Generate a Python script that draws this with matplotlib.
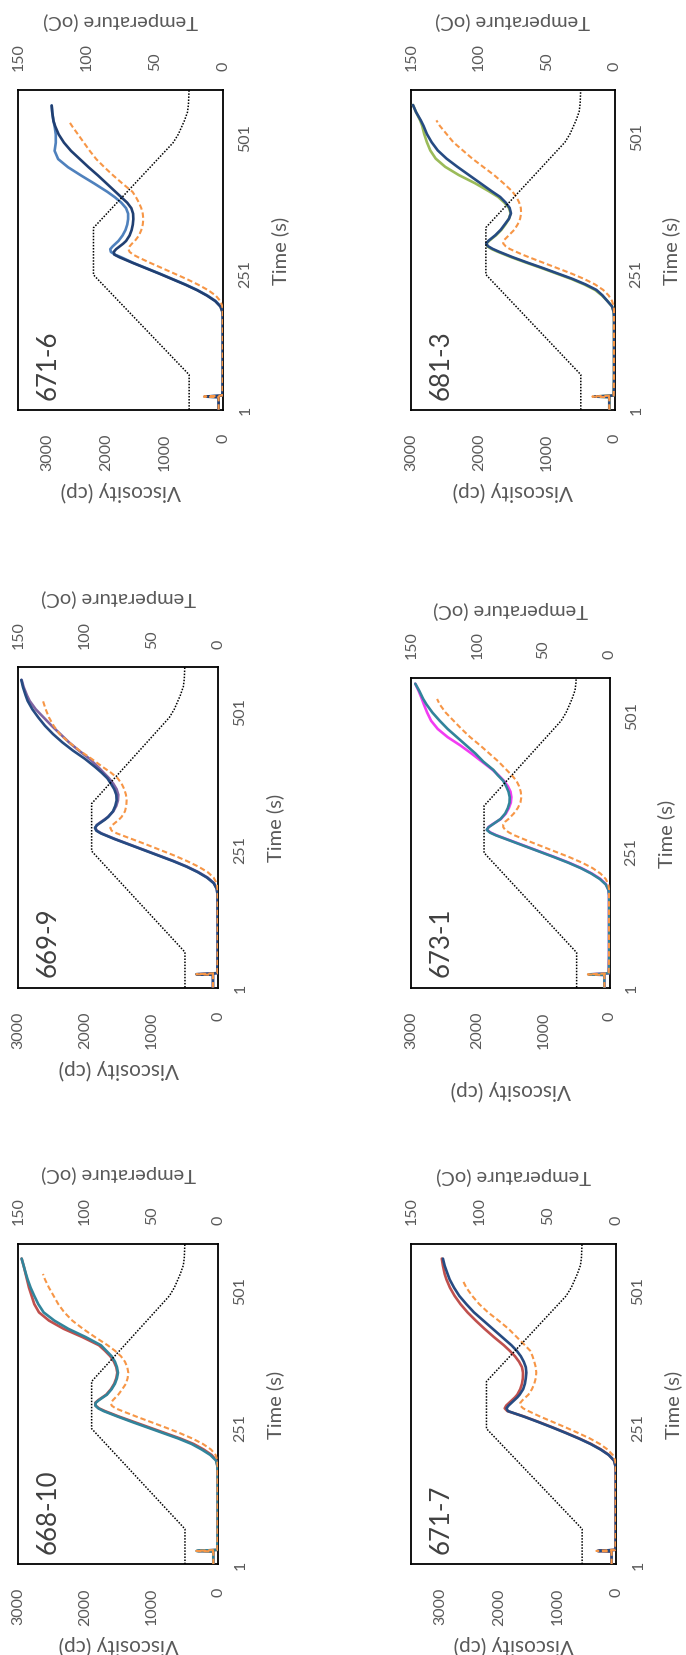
import numpy as np
import matplotlib
matplotlib.use("Agg")
import matplotlib.pyplot as plt

plt.rcParams["font.family"] = ["Lato", "DejaVu Sans"]

# ---------------------------------------------------------------- data
# sampling points (s) shared by every viscosity trace
TIME = [1, 24, 25, 27, 60, 120, 170,
        180, 190, 200, 210, 220, 230, 240, 250, 260, 270, 280,
        285, 290, 295, 300, 305, 310,
        320, 330, 340, 350, 360, 370, 380, 390, 400,
        415, 430, 445, 460, 475, 490, 505, 520, 530, 545, 558]

# temperature programme (oC)
TEMP_TIME = [1, 65, 248, 334, 490, 505, 516, 530, 546, 560, 590]
TEMP_C = [25, 25, 95, 95, 36.7, 33, 31, 28.5, 26.2, 25.5, 25]

nan = np.nan

# 668-10
V_668_10_TEAL = [75, 75, 325, 15, 10, 10, 10,
                 15, 35, 120, 250, 400, 600, 830, 1060, 1290, 1510, 1720,
                 1800, 1845, 1840, 1790, 1730, 1670,
                 1600, 1550, 1520, 1505, 1520, 1550, 1600, 1680, 1760,
                 1990, 2250, 2460, 2620, 2700, 2760, 2815, 2860, 2885, 2920, 2950]
V_668_10_RED = [75, 75, 300, 15, 10, 10, 10,
                12, 30, 100, 220, 370, 570, 800, 1030, 1260, 1490, 1700,
                1790, 1840, 1845, 1800, 1740, 1680,
                1610, 1560, 1530, 1515, 1530, 1565, 1620, 1700, 1790,
                2040, 2320, 2540, 2690, 2760, 2800, 2840, 2870, 2890, 2920, 2950]
V_668_10_ORANGE = [75, 75, 330, 15, 10, 10, 10,
                   10, 15, 40, 110, 230, 390, 580, 790, 1010, 1230, 1440,
                   1540, 1600, 1610, 1580, 1540, 1500,
                   1440, 1385, 1360, 1350, 1365, 1400, 1460, 1550, 1660,
                   1850, 2030, 2190, 2310, 2400, 2470, 2540, 2600, 2630, nan, nan]

# 669-9
V_669_9_NAVY = [80, 80, 330, 15, 10, 10, 12,
                25, 70, 170, 310, 480, 680, 900, 1120, 1340, 1560, 1760,
                1830, 1850, 1820, 1760, 1700, 1650,
                1580, 1545, 1525, 1530, 1560, 1610, 1665, 1750, 1845,
                2000, 2180, 2340, 2480, 2600, 2700, 2790, 2860, 2890, 2930, 2955]
V_669_9_PURPLE = [80, 80, 310, 15, 10, 10, 12,
                  22, 65, 160, 300, 470, 670, 890, 1110, 1330, 1550, 1750,
                  1820, 1845, 1825, 1770, 1710, 1655,
                  1575, 1530, 1505, 1500, 1525, 1575, 1640, 1720, 1800,
                  1930, 2090, 2240, 2370, 2500, 2620, 2740, 2830, 2870, 2920, 2950]
V_669_9_ORANGE = [80, 80, 330, 15, 10, 10, 10,
                  12, 25, 70, 160, 300, 470, 660, 870, 1080, 1300, 1520,
                  1600, 1620, 1590, 1540, 1490, 1450,
                  1400, 1380, 1375, 1385, 1410, 1450, 1510, 1610, 1730,
                  1900, 2080, 2240, 2380, 2470, 2540, 2590, 2630, nan, nan, nan]

# 671-6
V_671_6_NAVY = [80, 80, 320, 15, 10, 10, 10,
                15, 50, 140, 280, 450, 650, 870, 1090, 1320, 1550, 1770,
                1860, 1870, 1830, 1770, 1710, 1660,
                1600, 1565, 1545, 1536, 1540, 1570, 1640, 1740, 1840,
                1990, 2140, 2300, 2450, 2600, 2720, 2810, 2870, 2900, 2920, 2930]
V_671_6_BLUE = [80, 80, 300, 15, 10, 10, 10,
                14, 45, 130, 270, 440, 640, 860, 1080, 1310, 1540, 1740,
                1850, 1920, 1930, 1890, 1840, 1790,
                1720, 1670, 1640, 1625, 1625, 1660, 1740, 1850, 1980,
                2200, 2430, 2650, 2820, 2880, 2860, 2860, 2880, 2900, 2920, 2930]
V_671_6_ORANGE = [80, 80, 330, 15, 10, 10, 10,
                  10, 15, 50, 130, 260, 430, 620, 830, 1040, 1250, 1450,
                  1540, 1600, 1620, 1600, 1560, 1510,
                  1440, 1400, 1375, 1366, 1375, 1400, 1440, 1490, 1550,
                  1720, 1880, 2030, 2170, 2280, 2380, 2480, 2580, 2640, nan, nan]

# 671-7
V_671_7_NAVY = [80, 80, 320, 15, 10, 10, 10,
                15, 40, 130, 270, 440, 640, 860, 1090, 1330, 1580, 1850,
                1875, 1840, 1790, 1740, 1690, 1650,
                1590, 1560, 1545, 1536, 1545, 1580, 1630, 1700, 1790,
                1950, 2110, 2270, 2430, 2560, 2680, 2770, 2845, 2880, 2930, 2960]
V_671_7_RED = [80, 80, 300, 15, 10, 10, 10,
               15, 40, 125, 260, 430, 630, 850, 1080, 1320, 1570, 1860,
               1905, 1880, 1830, 1780, 1730, 1690,
               1640, 1610, 1595, 1593, 1610, 1660, 1730, 1820, 1920,
               2090, 2250, 2400, 2540, 2660, 2760, 2840, 2900, 2930, 2960, 2980]
V_671_7_ORANGE = [80, 80, 340, 15, 10, 10, 10,
                  10, 20, 60, 150, 280, 450, 650, 860, 1080, 1300, 1500,
                  1590, 1640, 1640, 1600, 1550, 1500,
                  1440, 1400, 1375, 1366, 1375, 1400, 1430, 1470, 1560,
                  1700, 1840, 2010, 2190, 2340, 2460, 2560, 2630, nan, nan, nan]

# 673-1
V_673_1_TEAL = [80, 80, 320, 15, 10, 10, 10,
                20, 60, 150, 280, 440, 630, 840, 1060, 1280, 1500, 1720,
                1810, 1860, 1830, 1770, 1710, 1650,
                1580, 1540, 1515, 1512, 1530, 1565, 1610, 1690, 1760,
                1910, 2030, 2170, 2310, 2450, 2570, 2680, 2770, 2820, 2880, 2940]
V_673_1_MAGENTA = [80, 80, 300, 15, 10, 10, 10,
                   18, 55, 140, 270, 430, 620, 830, 1050, 1270, 1490, 1710,
                   1800, 1855, 1835, 1775, 1710, 1645,
                   1570, 1525, 1495, 1487, 1500, 1540, 1600, 1680, 1770,
                   1930, 2090, 2260, 2450, 2600, 2700, 2760, 2810, 2840, 2890, 2940]
V_673_1_ORANGE = [80, 80, 330, 15, 10, 10, 10,
                  10, 20, 60, 140, 260, 420, 610, 820, 1030, 1240, 1440,
                  1520, 1580, 1610, 1610, 1580, 1530,
                  1450, 1390, 1350, 1336, 1345, 1370, 1410, 1480, 1560,
                  1680, 1820, 1960, 2110, 2240, 2360, 2480, 2570, 2610, nan, nan]

# 681-3
V_681_3_NAVY = [80, 80, 300, 15, 10, 10, 10,
                15, 40, 110, 180, 270, 430, 620, 840, 1060, 1290, 1510,
                1610, 1710, 1800, 1870, 1895, 1860,
                1760, 1680, 1620, 1560, 1530, 1550, 1610, 1690, 1810,
                1980, 2150, 2320, 2480, 2610, 2700, 2770, 2820, 2860, 2930, 2975]
V_681_3_GREEN = [80, 80, 300, 15, 10, 10, 10,
                 15, 40, 110, 190, 290, 450, 640, 860, 1080, 1310, 1530,
                 1630, 1730, 1820, 1880, 1890, 1850,
                 1750, 1670, 1610, 1560, 1535, 1560, 1630, 1720, 1850,
                 2060, 2300, 2500, 2640, 2720, 2770, 2810, 2840, 2870, 2930, 2975]
V_681_3_ORANGE = [80, 80, 330, 15, 10, 10, 10,
                  10, 15, 40, 90, 170, 290, 450, 640, 850, 1060, 1270,
                  1370, 1460, 1550, 1610, 1645, 1640,
                  1560, 1480, 1430, 1395, 1380, 1385, 1410, 1450, 1510,
                  1640, 1780, 1940, 2100, 2240, 2380, 2480, 2580, 2630, nan, nan]

VISC_TICKS = [0, 1000, 2000, 3000]
TEMP_TICKS = [0, 50, 100, 150]
TIME_TICKS = [1, 251, 501]

# ---------------------------------------------------------------- styling
ORANGE = "#F79646"
NAVY = "#264B82"
DARKNAVY = "#203F72"
TEAL = "#31849B"
RED = "#C0504D"
PURPLE = "#8064A2"
LIGHTBLUE = "#4F81BD"
MAGENTA = "#F23CF2"
GREEN = "#9BBB59"
GRAY = "#595959"
LABEL_GRAY = "#404040"

W, H = 686, 1656
fig = plt.figure(figsize=(W / 100, H / 100), dpi=100)
fig.patch.set_facecolor("white")

PT = 0.72  # points per pixel at 100 dpi

panels = [
    dict(name="671-6", box=(18.3, 223.3, 90.7, 410.7), vmax=3500, tmax=587,
         lines=[(V_671_6_BLUE, LIGHTBLUE), (V_671_6_NAVY, DARKNAVY)],
         orange=V_671_6_ORANGE, visc_top=481, temp_bottom=30.5),
    dict(name="681-3", box=(411.3, 614.7, 90.7, 410.7), vmax=3000, tmax=586,
         lines=[(V_681_3_GREEN, GREEN), (V_681_3_NAVY, NAVY)],
         orange=V_681_3_ORANGE, visc_top=481, temp_bottom=30.5),
    dict(name="669-9", box=(18.3, 218.3, 668.2, 988.5), vmax=3000, tmax=581,
         lines=[(V_669_9_PURPLE, PURPLE), (V_669_9_NAVY, NAVY)],
         orange=V_669_9_ORANGE, visc_top=1059, temp_bottom=606.6),
    dict(name="673-1", box=(411.3, 609.7, 678.7, 988.5), vmax=3000, tmax=569,
         lines=[(V_673_1_MAGENTA, MAGENTA), (V_673_1_TEAL, TEAL)],
         orange=V_673_1_ORANGE, visc_top=1080, temp_bottom=619),
    dict(name="668-10", box=(18.3, 218.3, 1244.8, 1565.1), vmax=3000, tmax=585,
         lines=[(V_668_10_RED, RED), (V_668_10_TEAL, TEAL)],
         orange=V_668_10_ORANGE, visc_top=1635.5, temp_bottom=1183.2),
    dict(name="671-7", box=(411.3, 616.3, 1244.8, 1565.1), vmax=3500, tmax=585,
         lines=[(V_671_7_RED, RED), (V_671_7_NAVY, NAVY)],
         orange=V_671_7_ORANGE, visc_top=1635.5, temp_bottom=1185),
]

for p in panels:
    x0, x1, ytop, ybot = p["box"]
    ax = fig.add_axes([x0 / W, 1 - ybot / H, (x1 - x0) / W, (ybot - ytop) / H])

    # viscosity runs right-to-left along the bottom, time bottom-to-top
    for vals, col in p["lines"]:
        ax.plot(vals, TIME, color=col, lw=1.9, solid_capstyle="round", zorder=3)
    ax.plot(p["orange"], TIME, color=ORANGE, lw=1.5, ls=(0, (2.6, 1.4)), zorder=4)

    ax.set_xlim(p["vmax"], 0)
    ax.set_ylim(1, p["tmax"])
    ax.set_xticks(VISC_TICKS)
    ax.set_yticks(TIME_TICKS)
    ax.yaxis.tick_right()
    ax.tick_params(axis="x", length=0, pad=23 * PT, labelrotation=90,
                   labelsize=11.5, labelcolor=GRAY)
    ax.tick_params(axis="y", length=0, pad=15 * PT, labelrotation=90,
                   labelsize=11.5, labelcolor=GRAY)
    for lbl in ax.get_yticklabels():
        lbl.set_va("center")
    for s in ax.spines.values():
        s.set_color("black")
        s.set_linewidth(1.3)

    # temperature on a second horizontal scale along the top
    ax2 = ax.twiny()
    ax2.plot(TEMP_C, TEMP_TIME, color="black", lw=1.1, ls=(0, (1, 1)), zorder=2)
    ax2.set_xlim(150, 0)
    ax2.set_xticks(TEMP_TICKS)
    ax2.tick_params(axis="x", length=0, pad=19.5 * PT, labelrotation=90,
                    labelsize=11.5, labelcolor=GRAY)
    for s in ax2.spines.values():
        s.set_visible(False)

    cx = (x0 + x1) / 2
    cy = (ytop + ybot) / 2
    fig.text((x0 + 17) / W, 1 - (ybot - 11) / H, p["name"], rotation=90,
             ha="left", va="bottom", fontsize=18.5, color=LABEL_GRAY)
    fig.text((x1 + 48) / W, 1 - cy / H, "Time (s)", rotation=90,
             ha="left", va="center", fontsize=14.5, color=GRAY)
    fig.text(cx / W, 1 - p["visc_top"] / H, "Viscosity (cp)", rotation=180,
             ha="center", va="top", fontsize=15, color=GRAY)
    fig.text(cx / W, 1 - p["temp_bottom"] / H, "Temperature (oC)", rotation=180,
             ha="center", va="bottom", fontsize=14.5, color=GRAY)

fig.savefig("out.png", dpi=100, facecolor="white")
